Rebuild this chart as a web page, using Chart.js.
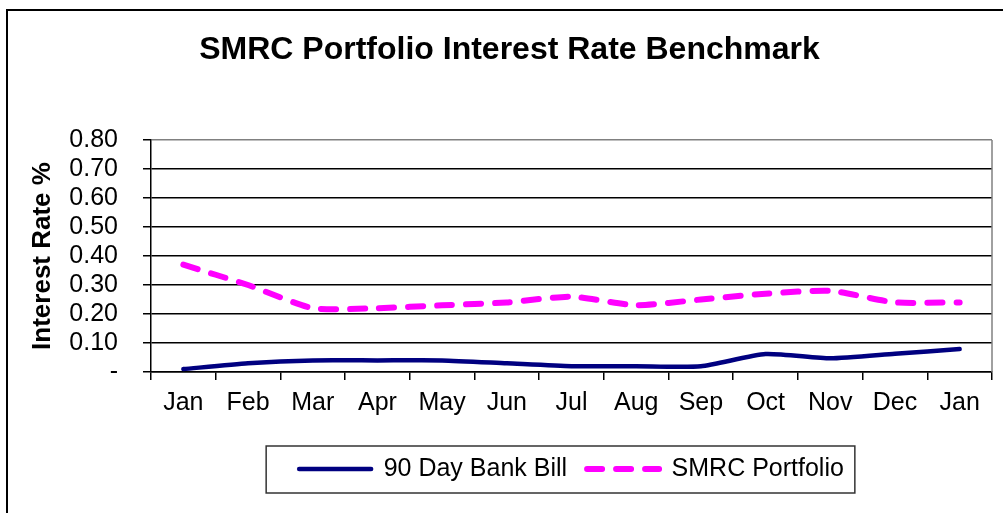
<!DOCTYPE html>
<html>
<head>
<meta charset="utf-8">
<script src="https://cdn.jsdelivr.net/npm/chart.js@4"></script>
<style>
  html, body { margin: 0; padding: 0; background: #fff; }
  #wrap { width: 1003px; height: 513px; position: relative; }
</style>
</head>
<body>
<div id="wrap"><canvas id="c" width="1003" height="513"></canvas></div>
<script>
const months = ["Jan","Feb","Mar","Apr","May","Jun","Jul","Aug","Sep","Oct","Nov","Dec","Jan"];
const bankBill = [0.01, 0.03, 0.04, 0.04, 0.04, 0.03, 0.02, 0.02, 0.02, 0.062, 0.047, 0.063, 0.079];
const smrcPortfolio = [0.37, 0.30, 0.22, 0.22, 0.23, 0.24, 0.26, 0.23, 0.25, 0.27, 0.28, 0.24, 0.24];
const yTicks = [0, 0.1, 0.2, 0.3, 0.4, 0.5, 0.6, 0.7, 0.8];
const seriesNames = ["90 Day Bank Bill", "SMRC Portfolio"];
const chartTitle = "SMRC Portfolio Interest Rate Benchmark";
const yTitle = "Interest Rate %";

const FONT = "'Liberation Sans', Arial, sans-serif";

const framePlugin = {
  id: 'frames',
  afterDraw(chart) {
    const ctx = chart.ctx;
    const a = chart.chartArea;
    ctx.save();
    // outer chart frame (top and left visible)
    ctx.strokeStyle = '#000';
    ctx.lineWidth = 2;
    ctx.beginPath();
    ctx.moveTo(7, 520);
    ctx.lineTo(7, 10);
    ctx.lineTo(1010, 10);
    ctx.stroke();
    // plot area right border (gray)
    ctx.strokeStyle = '#808080';
    ctx.lineWidth = 1.5;
    ctx.beginPath();
    ctx.moveTo(a.right, a.top);
    ctx.lineTo(a.right, a.bottom);
    ctx.stroke();
    // legend frame
    const hb = chart.legend && chart.legend.legendHitBoxes;
    if (hb && hb.length) {
      const first = hb[0], last = hb[hb.length - 1];
      const cy = first.top + first.height / 2;
      const l = first.left - 33, r = last.left + last.width + 11;
      ctx.strokeStyle = '#333';
      ctx.lineWidth = 1.5;
      ctx.strokeRect(l, cy - 23, r - l, 47);
    }
    ctx.restore();
  }
};

new Chart(document.getElementById('c'), {
  type: 'line',
  data: {
    labels: months,
    datasets: [
      {
        label: seriesNames[0],
        data: bankBill,
        borderColor: '#000080',
        backgroundColor: '#000080',
        borderWidth: 4.5,
        pointRadius: 0,
        tension: 0.2,
        borderCapStyle: 'round',
        fill: false
      },
      {
        label: seriesNames[1],
        data: smrcPortfolio,
        borderColor: '#FF00FF',
        backgroundColor: '#FF00FF',
        borderWidth: 6,
        borderDash: [15, 14],
        borderCapStyle: 'round',
        pointRadius: 0,
        tension: 0.2,
        fill: false
      }
    ]
  },
  options: {
    responsive: false,
    animation: false,
    devicePixelRatio: 1,
    layout: { padding: { left: 27, right: 11, top: 0, bottom: 21.5 } },
    plugins: {
      title: {
        display: true,
        text: chartTitle,
        color: '#000',
        font: { family: FONT, size: 32, weight: 'bold' },
        padding: { top: 30.8, bottom: 70.8 }
      },
      legend: {
        display: true,
        position: 'bottom',
        fullSize: false,
        labels: {
          color: '#000',
          font: { family: FONT, size: 25 },
          usePointStyle: true,
          pointStyle: 'line',
          pointStyleWidth: 72,
          padding: 20,
          generateLabels(chart) {
            return chart.data.datasets.map((ds, i) => ({
              text: ds.label,
              strokeStyle: ds.borderColor,
              fillStyle: ds.borderColor,
              lineWidth: ds.borderWidth,
              lineDash: ds.borderDash || [],
              lineCap: 'round',
              pointStyle: 'line',
              datasetIndex: i,
              hidden: false,
              fontColor: '#000'
            }));
          }
        }
      },
      tooltip: { enabled: false }
    },
    scales: {
      x: {
        offset: true,
        afterFit(scale) { scale.height = 64.5; },
        grid: {
          offset: true,
          drawOnChartArea: false,
          drawTicks: true,
          tickLength: 8,
          color: '#000',
          lineWidth: 1.5
        },
        border: { color: '#000', width: 1.5 },
        ticks: {
          color: '#000',
          font: { family: FONT, size: 25 },
          padding: 8,
          maxRotation: 0,
          autoSkip: false
        }
      },
      y: {
        min: 0,
        max: 0.8,
        afterFit(scale) { scale.width = 124; },
        afterBuildTicks(scale) { scale.ticks = yTicks.map(v => ({ value: v })); },
        grid: {
          color: (c) => (c.tick && Math.abs(c.tick.value - 0.8) < 1e-9) ? '#808080' : '#000',
          lineWidth: 1.5,
          tickLength: 8,
          tickColor: '#000'
        },
        border: { color: '#000', width: 1.5 },
        ticks: {
          color: '#000',
          font: { family: FONT, size: 25 },
          padding: 25,
          autoSkip: false,
          callback: (v) => (v === 0 ? '-' : Number(v).toFixed(2))
        },
        title: {
          display: true,
          text: yTitle,
          color: '#000',
          font: { family: FONT, size: 26, weight: 'bold' },
          padding: 0
        }
      }
    }
  },
  plugins: [framePlugin]
});
</script>
</body>
</html>
